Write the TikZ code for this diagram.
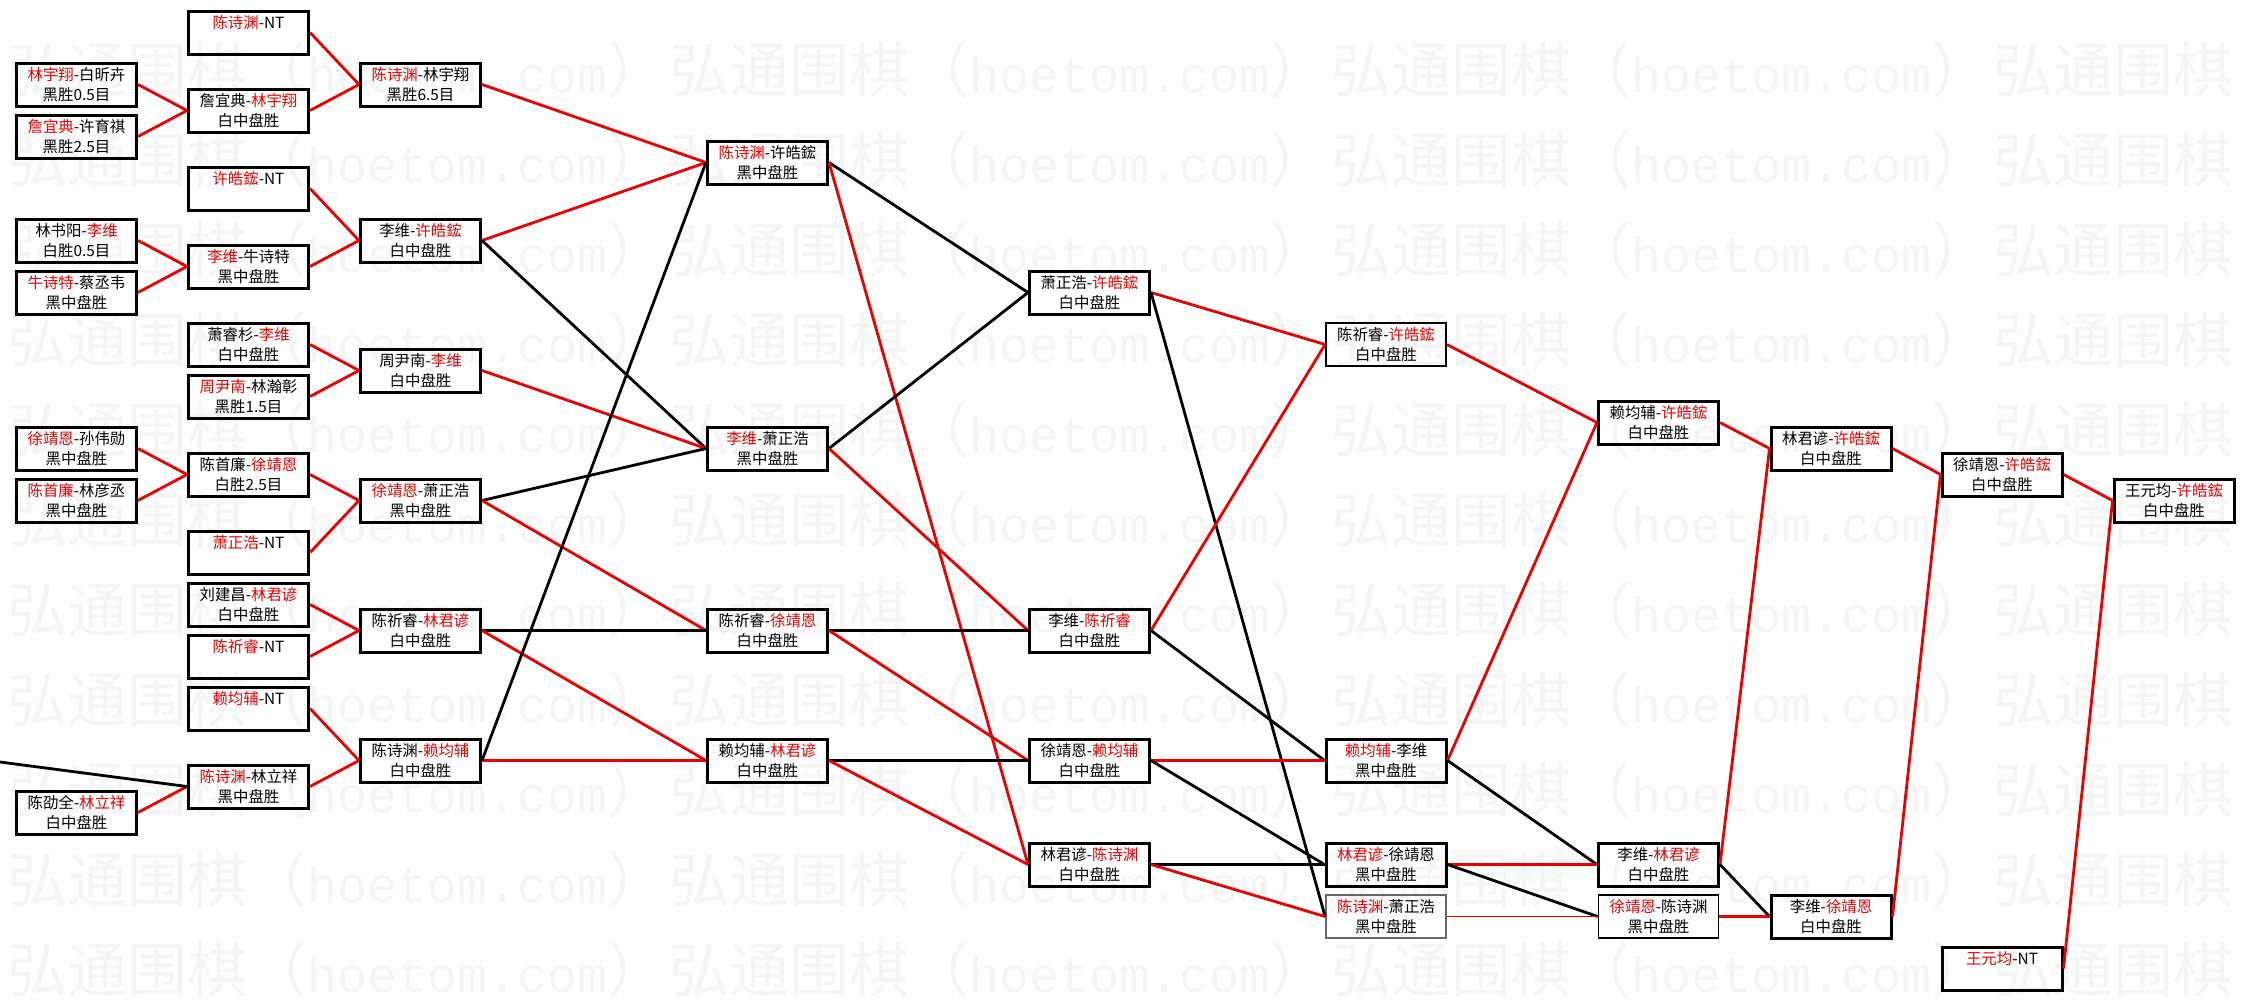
\documentclass[tikz,border=0pt]{standalone}
\usepackage{fontspec}
\setmainfont{Noto Sans CJK SC}
\newfontfamily\wmmono{Liberation Mono}
\definecolor{winred}{RGB}{235,0,0}
\newcommand{\wn}[1]{\textcolor{winred}{#1}}
\newcommand{\nt}[1]{\wn{#1}-NT\\\phantom{黑}}
\tikzset{
  game/.style={draw, line width=1.5pt, minimum width=60pt, minimum height=21.5pt,
    inner sep=0pt, align=center, font=\fontsize{7.7pt}{10pt}\selectfont},
  lightgame/.style={game, line width=0.9pt},
  win/.style={draw=winred, line width=1.4pt},
  lose/.style={draw=black, line width=1.4pt},
  wmtext/.style={text=black!4, anchor=west, inner sep=0pt, font=\fontsize{30pt}{30pt}\selectfont}
}
\begin{document}
\begin{tikzpicture}[x=0.5pt, y=-0.5pt]
  \useasboundingbox (0,0) rectangle (2246,1001);
  \clip (0,0) rectangle (2246,1001);
  % watermark
  \foreach \r in {0,...,10}
    \foreach \c in {0,...,3}
      \node[wmtext] (wm\r-\c) at (7+662*\c, 70+90*\r)
        {弘通围棋（{\wmmono\fontsize{25pt}{25pt}\selectfont hoetom.com}）};
  % first round
  \node[game] (a1) at (76.5,84.5) {\wn{林宇翔}-白昕卉\\黑胜0.5目};
  \node[game] (a2) at (76.5,136.5) {\wn{詹宜典}-许育祺\\黑胜2.5目};
  \node[game] (a3) at (76.5,240.5) {林书阳-\wn{李维}\\白胜0.5目};
  \node[game] (a4) at (76.5,292.5) {\wn{牛诗特}-蔡丞韦\\黑中盘胜};
  \node[game] (a5) at (76.5,448.5) {\wn{徐靖恩}-孙伟勋\\黑中盘胜};
  \node[game] (a6) at (76.5,500.5) {\wn{陈首廉}-林彦丞\\黑中盘胜};
  \node[game] (a7) at (76.5,812.5) {陈劭全-\wn{林立祥}\\白中盘胜};
  % second round
  \node[game] (b1) at (248.5,32.5) {\nt{陈诗渊}};
  \node[game] (b2) at (248.5,110.5) {詹宜典-\wn{林宇翔}\\白中盘胜};
  \node[game] (b3) at (248.5,188.5) {\nt{许皓鋐}};
  \node[game] (b4) at (248.5,266.5) {\wn{李维}-牛诗特\\黑中盘胜};
  \node[game] (b5) at (248.5,344.5) {萧睿杉-\wn{李维}\\白中盘胜};
  \node[game] (b6) at (248.5,396.5) {\wn{周尹南}-林瀚彰\\黑胜1.5目};
  \node[game] (b7) at (248.5,474.5) {陈首廉-\wn{徐靖恩}\\白胜2.5目};
  \node[game] (b8) at (248.5,552.5) {\nt{萧正浩}};
  \node[game] (b9) at (248.5,604.5) {刘建昌-\wn{林君谚}\\白中盘胜};
  \node[game] (b10) at (248.5,656.5) {\nt{陈祈睿}};
  \node[game] (b11) at (248.5,708.5) {\nt{赖均辅}};
  \node[game] (b12) at (248.5,786.5) {\wn{陈诗渊}-林立祥\\黑中盘胜};
  % third round
  \node[game] (c1) at (420.5,84.5) {\wn{陈诗渊}-林宇翔\\黑胜6.5目};
  \node[game] (c2) at (420.5,240.5) {李维-\wn{许皓鋐}\\白中盘胜};
  \node[game] (c3) at (420.5,370.5) {周尹南-\wn{李维}\\白中盘胜};
  \node[game] (c4) at (420.5,500.5) {\wn{徐靖恩}-萧正浩\\黑中盘胜};
  \node[game] (c5) at (420.5,630.5) {陈祈睿-\wn{林君谚}\\白中盘胜};
  \node[game] (c6) at (420.5,760.5) {陈诗渊-\wn{赖均辅}\\白中盘胜};
  % fourth round
  \node[game] (d1) at (767.5,162.5) {\wn{陈诗渊}-许皓鋐\\黑中盘胜};
  \node[game] (d2) at (767.5,448.5) {\wn{李维}-萧正浩\\黑中盘胜};
  \node[game] (d3) at (767.5,630.5) {陈祈睿-\wn{徐靖恩}\\白中盘胜};
  \node[game] (d4) at (767.5,760.5) {赖均辅-\wn{林君谚}\\白中盘胜};
  % fifth round
  \node[game] (e1) at (1089.5,292.5) {萧正浩-\wn{许皓鋐}\\白中盘胜};
  \node[game] (e2) at (1089.5,630.5) {李维-\wn{陈祈睿}\\白中盘胜};
  \node[game] (e3) at (1089.5,760.5) {徐靖恩-\wn{赖均辅}\\白中盘胜};
  \node[game] (e4) at (1089.5,864.5) {林君谚-\wn{陈诗渊}\\白中盘胜};
  % sixth round
  \node[lightgame] (f1) at (1386,344.5) {陈祈睿-\wn{许皓鋐}\\白中盘胜};
  \node[game] (f2) at (1386,760.5) {\wn{赖均辅}-李维\\黑中盘胜};
  \node[game] (f3) at (1386,864.5) {\wn{林君谚}-徐靖恩\\黑中盘胜};
  \node[lightgame, draw=black!60] (f4) at (1386,916.5) {\wn{陈诗渊}-萧正浩\\黑中盘胜};
  % later rounds
  \node[game] (g1) at (1658.5,422.5) {赖均辅-\wn{许皓鋐}\\白中盘胜};
  \node[game] (g2) at (1658.5,864.5) {李维-\wn{林君谚}\\白中盘胜};
  \node[lightgame] (g3) at (1658.5,916.5) {\wn{徐靖恩}-陈诗渊\\黑中盘胜};
  \node[game] (h1) at (1831,448.5) {林君谚-\wn{许皓鋐}\\白中盘胜};
  \node[game] (h2) at (1831,916.5) {李维-\wn{徐靖恩}\\白中盘胜};
  \node[game] (i1) at (2002,474.5) {徐靖恩-\wn{许皓鋐}\\白中盘胜};
  \node[game] (i2) at (2002,968.5) {\nt{王元均}};
  \node[game] (j1) at (2174,500.5) {王元均-\wn{许皓鋐}\\白中盘胜};
  \coordinate (in0) at (0,762);
  % connectors
  \draw[win] (a1.east) -- (b2.west);
  \draw[win] (a2.east) -- (b2.west);
  \draw[win] (a3.east) -- (b4.west);
  \draw[win] (a4.east) -- (b4.west);
  \draw[win] (a5.east) -- (b7.west);
  \draw[win] (a6.east) -- (b7.west);
  \draw[win] (a7.east) -- (b12.west);
  \draw[lose] (in0) -- (b12.west);
  \draw[win] (b1.east) -- (c1.west);
  \draw[win] (b2.east) -- (c1.west);
  \draw[win] (b3.east) -- (c2.west);
  \draw[win] (b4.east) -- (c2.west);
  \draw[win] (b5.east) -- (c3.west);
  \draw[win] (b6.east) -- (c3.west);
  \draw[win] (b7.east) -- (c4.west);
  \draw[win] (b8.east) -- (c4.west);
  \draw[win] (b9.east) -- (c5.west);
  \draw[win] (b10.east) -- (c5.west);
  \draw[win] (b11.east) -- (c6.west);
  \draw[win] (b12.east) -- (c6.west);
  \draw[win] (c1.east) -- (d1.west);
  \draw[win] (c2.east) -- (d1.west);
  \draw[lose] (c2.east) -- (d2.west);
  \draw[win] (c3.east) -- (d2.west);
  \draw[lose] (c4.east) -- (d2.west);
  \draw[win] (c4.east) -- (d3.west);
  \draw[lose] (c5.east) -- (d3.west);
  \draw[win] (c5.east) -- (d4.west);
  \draw[win] (c6.east) -- (d4.west);
  \draw[lose] (c6.east) -- (d1.west);
  \draw[lose] (d1.east) -- (e1.west);
  \draw[win] (d1.east) -- (e4.west);
  \draw[lose] (d2.east) -- (e1.west);
  \draw[win] (d2.east) -- (e2.west);
  \draw[lose] (d3.east) -- (e2.west);
  \draw[win] (d3.east) -- (e3.west);
  \draw[lose] (d4.east) -- (e3.west);
  \draw[win] (d4.east) -- (e4.west);
  \draw[win] (e1.east) -- (f1.west);
  \draw[lose] (e1.east) -- (f4.west);
  \draw[win] (e2.east) -- (f1.west);
  \draw[lose] (e2.east) -- (f2.west);
  \draw[win] (e3.east) -- (f2.west);
  \draw[lose] (e3.east) -- (f3.west);
  \draw[lose] (e4.east) -- (f3.west);
  \draw[win] (e4.east) -- (f4.west);
  \draw[win] (f1.east) -- (g1.west);
  \draw[win] (f2.east) -- (g1.west);
  \draw[lose] (f2.east) -- (g2.west);
  \draw[win] (f3.east) -- (g2.west);
  \draw[lose] (f3.east) -- (g3.west);
  \draw[win, line width=0.9pt] (f4.east) -- (g3.west);
  \draw[win] (g1.east) -- (h1.west);
  \draw[win] (g2.east) -- (h1.west);
  \draw[lose] (g2.east) -- (h2.west);
  \draw[win] (g3.east) -- (h2.west);
  \draw[win] (h1.east) -- (i1.west);
  \draw[win] (h2.east) -- (i1.west);
  \draw[win] (i1.east) -- (j1.west);
  \draw[win] (i2.east) -- (j1.west);
\end{tikzpicture}
\end{document}
